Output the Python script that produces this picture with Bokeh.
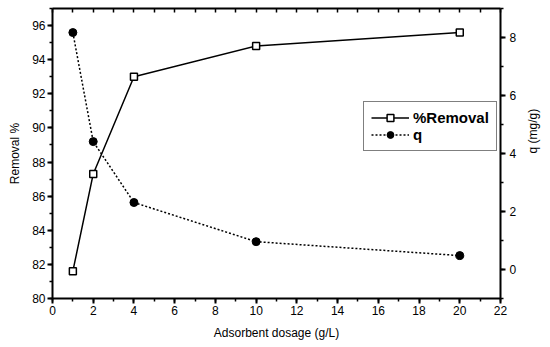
import math
from bokeh.plotting import figure
from bokeh.models import Range1d, LinearAxis, SingleIntervalTicker, FixedTicker, Legend
from bokeh.embed import file_html
from bokeh.resources import INLINE

dosage = [1, 2, 4, 10, 20]
removal = [81.6, 87.3, 93.0, 94.8, 95.6]
q_vals = [8.17, 4.41, 2.31, 0.96, 0.48]

FONT = "Liberation Sans"

p = figure(width=550, height=347, output_backend="svg", toolbar_location=None,
           x_range=Range1d(0, 22), y_range=Range1d(80, 97),
           min_border_left=52, min_border_right=48, min_border_top=8, min_border_bottom=49)
p.extra_y_ranges = {"q": Range1d(-1, 9)}
p.xgrid.visible = False
p.ygrid.visible = False
p.outline_line_color = None
p.background_fill_color = "white"
p.border_fill_color = "white"

def style(ax, out=True):
    ax.axis_line_width = 2
    ax.axis_line_color = "black"
    ax.major_tick_line_width = 2
    ax.minor_tick_line_width = 1.5
    ax.major_tick_line_color = "black"
    ax.minor_tick_line_color = "black"
    if out:
        ax.major_tick_out = 5
        ax.major_tick_in = 0
        ax.minor_tick_out = 3
        ax.minor_tick_in = 0
    else:
        ax.major_tick_out = 0
        ax.major_tick_in = 5
        ax.minor_tick_out = 0
        ax.minor_tick_in = 4
    ax.major_label_text_font = FONT
    ax.major_label_text_font_size = "12px"
    ax.major_label_text_color = "black"
    ax.major_label_standoff = 2
    ax.axis_label_text_font = FONT
    ax.axis_label_text_font_size = "12px"
    ax.axis_label_text_font_style = "normal"
    ax.axis_label_text_color = "black"
    ax.axis_label_standoff = 4

xax = p.xaxis[0]
xax.ticker = SingleIntervalTicker(interval=2, num_minor_ticks=2)
xax.axis_label = "Adsorbent dosage (g/L)"
style(xax)
xax.axis_label_standoff = 8

yax = p.yaxis[0]
yax.ticker = SingleIntervalTicker(interval=2, num_minor_ticks=2)
yax.axis_label = "Removal %"
style(yax)
yax.axis_label_standoff = 7

rax = LinearAxis(y_range_name="q", axis_label="q (mg/g)",
                 ticker=SingleIntervalTicker(interval=2, num_minor_ticks=2))
style(rax)
rax.major_label_standoff = 4
rax.axis_label_standoff = 14
rax.axis_label_orientation = math.pi / 2
p.add_layout(rax, "right")

tax = LinearAxis(ticker=FixedTicker(ticks=[], minor_ticks=list(range(0, 23))))
style(tax, out=False)
tax.major_label_standoff = 0
p.add_layout(tax, "above")

r1 = p.line(dosage, removal, line_color="black", line_width=1.5)
r2 = p.scatter(dosage, removal, marker="square", size=7, fill_color="white",
               line_color="black", line_width=1.5)
r3 = p.line(dosage, q_vals, line_color="black", line_width=1.5, line_dash="2 2",
            y_range_name="q")
r4 = p.scatter(dosage, q_vals, marker="circle", size=8, fill_color="black",
               line_color="black", y_range_name="q")

legend = Legend(items=[("%Removal", [r1, r2]), ("q", [r3, r4])],
                location=(311, 147))
legend.label_text_font = FONT
legend.label_text_font_size = "15px"
legend.label_text_font_style = "bold"
legend.label_text_color = "black"
legend.border_line_color = "black"
legend.border_line_width = 1
legend.glyph_width = 38
legend.glyph_height = 17
legend.label_height = 17
legend.spacing = 0
legend.padding = 7
legend.margin = 0
legend.label_standoff = 4
legend.background_fill_alpha = 1
p.add_layout(legend, "center")

open("out.html", "w").write(file_html(p, INLINE))
